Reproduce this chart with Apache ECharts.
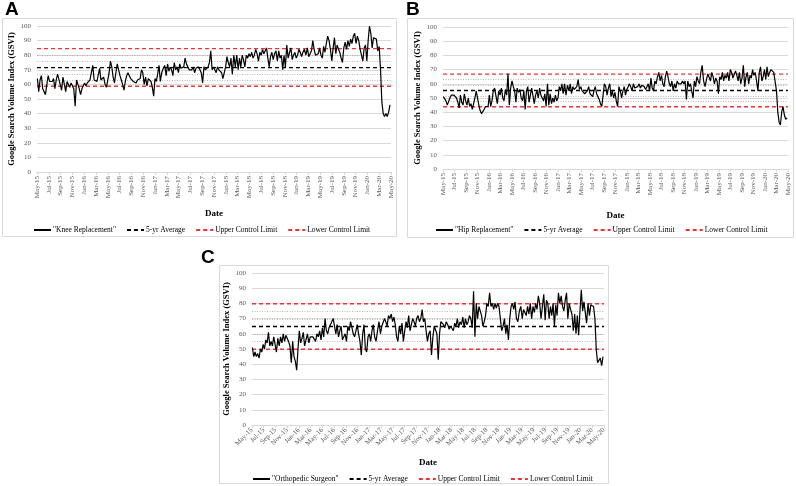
<!DOCTYPE html>
<html><head><meta charset="utf-8">
<script src="https://cdn.jsdelivr.net/npm/echarts@6/dist/echarts.min.js"></script>
<style>html,body{margin:0;padding:0;background:#fff}#c{width:796px;height:486px}</style>
</head><body><div id="c"></div>
<script>
const tickLabels = ['May-15','Jul-15','Sep-15','Nov-15','Jan-16','Mar-16','May-16','Jul-16','Sep-16','Nov-16','Jan-17','Mar-17','May-17','Jul-17','Sep-17','Nov-17','Jan-18','Mar-18','May-18','Jul-18','Sep-18','Nov-18','Jan-19','Mar-19','May-19','Jul-19','Sep-19','Nov-19','Jan-20','Mar-20','May-20'];
const firstWeek = [2015, 5, 3];
const yTicks = [0, 100, 10];

const kneeValues = [64,55,63,66,57,58,53,60,66,62,63,62,64,
57,63,67,66,60,56,65,64,55,62,63,58,61,
60,57,45,63,60,57,53,57,58,61,59,61,62,
63,64,73,63,62,62,63,71,63,64,65,60,58,
58,68,76,72,65,61,68,74,70,66,63,60,56,
62,66,68,66,64,63,62,62,61,63,62,64,70,
68,60,65,59,64,63,62,58,52,64,62,67,73,
62,68,71,73,66,74,69,72,70,66,75,70,72,
68,74,71,70,72,78,74,72,70,71,70,72,68,
71,70,72,70,68,61,72,70,71,72,75,83,70,
72,70,68,72,70,71,68,64,68,72,79,75,72,
78,67,80,72,80,70,78,72,80,77,72,80,78,
81,79,82,78,80,84,81,76,82,80,84,81,82,
85,78,72,79,82,77,81,83,76,83,78,80,70,
80,72,87,78,82,85,77,80,82,78,80,84,82,
79,82,84,80,85,79,81,83,90,84,80,79,81,
85,80,78,86,82,88,93,90,84,76,85,92,81,
87,84,82,78,75,85,89,84,90,86,91,88,93,
95,88,93,90,84,80,76,85,87,76,90,100,95,
85,92,93,91,83,86,70,48,40,38,40,38,41,46];

const hipValues = [51,52,48,45,46,50,52,51,52,51,50,47,43,
52,47,45,53,48,45,50,44,46,42,46,50,55,
56,45,41,39,40,42,44,45,44,52,44,48,55,
57,56,46,55,52,57,50,48,56,52,67,45,57,
62,58,55,47,57,54,56,50,48,55,42,55,58,
47,52,57,56,46,52,55,50,57,52,50,48,53,
44,60,45,53,46,50,47,52,48,50,58,55,60,
53,60,52,59,55,60,53,58,56,55,58,63,56,
58,55,54,53,52,55,58,53,52,51,55,58,53,
53,49,46,44,52,60,58,52,57,60,51,55,50,
54,48,44,58,55,50,55,58,52,56,58,60,58,
55,60,57,56,58,60,57,59,60,58,56,58,60,
55,64,57,55,62,60,65,68,62,66,60,58,65,
69,65,60,58,62,55,60,57,62,60,61,60,62,
60,62,49,62,58,60,61,50,62,58,65,62,60,
68,73,62,58,63,67,66,62,68,65,60,64,62,
53,65,63,68,62,66,64,68,62,70,68,64,65,
69,66,62,68,60,64,73,58,65,68,60,66,64,
70,66,68,62,55,68,72,62,65,70,63,72,65,
68,70,69,68,67,55,40,33,31,40,44,38,35,36];

const orthoValues = [51,45,48,45,47,44,50,48,53,50,56,54,61,
52,55,52,58,53,48,57,52,58,54,60,55,59,
60,55,52,41,55,45,42,36,50,62,54,57,61,
52,56,60,54,58,59,58,57,55,60,58,62,56,
64,58,70,62,60,64,65,68,70,65,60,66,58,
62,65,56,55,60,55,65,62,68,64,60,58,62,
66,60,55,46,60,66,50,48,58,60,55,62,66,
58,55,62,68,60,65,66,70,68,65,72,70,73,
68,71,66,58,55,65,60,67,55,62,68,64,72,
62,66,70,68,65,70,72,68,70,76,68,70,62,
55,60,62,46,58,65,66,60,43,60,68,69,66,
64,68,66,63,65,66,62,67,65,70,64,68,66,
71,64,70,66,68,72,70,64,88,58,80,70,78,
75,72,65,68,72,80,78,87,78,80,76,80,77,
80,78,70,62,65,70,60,66,56,70,78,80,76,
81,70,68,75,78,70,76,74,72,78,73,80,70,
78,74,80,76,85,80,70,78,86,69,82,80,70,
78,72,80,65,79,72,87,80,85,78,75,82,87,
70,80,76,73,62,73,60,72,59,75,89,75,81,
80,67,80,72,79,80,78,70,50,41,40,44,39,45];

// [5-yr average, upper control limit, lower control limit]
const kneeControl = [71.5, 84.5, 58.7];
const hipControl = [55.3, 66.8, 43.8];
const orthoControl = [64.8, 79.8, 49.8];
// dotted sigma reference lines
const kneeSigma = [63.0, 67.2, 75.8, 80.2];
const hipSigma = [47.6, 51.5, 59.1, 63.0];
const orthoSigma = [54.8, 59.8, 69.8, 74.8];

const seriesNames = ['"Knee Replacement"', '"Hip Replacement"', '"Orthopedic Surgeon"'];
const controlNames = ['5-yr Average', 'Upper Control Limit', 'Lower Control Limit'];

function monthOffset(i) {
  const d = new Date(firstWeek[0], firstWeek[1] - 1, firstWeek[2] + 7 * i);
  const dim = new Date(d.getFullYear(), d.getMonth() + 1, 0).getDate();
  return (d.getFullYear() - 2015) * 12 + (d.getMonth() - 4) + (d.getDate() - 1) / dim;
}
const pts = vals => vals.map((v, i) => [monthOffset(i), v]);

const SERIF = 'Liberation Serif';
const grids = [
  {left: 37, top: 26, width: 354, height: 146},
  {left: 443, top: 27, width: 345, height: 142},
  {left: 252, top: 273, width: 352, height: 152}
];
const rotations = [90, 90, 45];
const dateGaps = [37, 42, 33];
const yNameGaps = [21, 19, 18];

const xAxes = grids.map((g, k) => ({
  type: 'value', gridIndex: k, min: 0, max: 60, interval: 2,
  name: 'Date', nameLocation: 'middle', nameGap: dateGaps[k],
  nameTextStyle: {fontFamily: SERIF, fontWeight: 'bold', fontSize: 9, color: '#000'},
  axisLine: {show: true, lineStyle: {color: '#d9d9d9'}},
  axisTick: {show: true, length: 3, lineStyle: {color: '#d9d9d9'}},
  splitLine: {show: false},
  axisLabel: {rotate: rotations[k], fontFamily: SERIF, fontSize: 7, color: '#595959', margin: 4,
    formatter: v => tickLabels[Math.round(v / 2)] || ''}
}));
const yAxes = grids.map((g, k) => ({
  type: 'value', gridIndex: k, min: yTicks[0], max: yTicks[1], interval: yTicks[2],
  name: 'Google Search Volume Index (GSVI)', nameLocation: 'middle', nameGap: yNameGaps[k],
  nameTextStyle: {fontFamily: SERIF, fontWeight: 'bold', fontSize: 8.5, color: '#000'},
  axisLine: {show: false}, axisTick: {show: false},
  splitLine: {lineStyle: {color: '#d9d9d9', width: 1}},
  axisLabel: {fontFamily: SERIF, fontSize: 7, color: '#595959', margin: 6}
}));

const valueSets = [kneeValues, hipValues, orthoValues];
const controls = [kneeControl, hipControl, orthoControl];
const sigmas = [kneeSigma, hipSigma, orthoSigma];
const controlColors = ['#000000', '#e8343a', '#e8343a'];

const series = [];
valueSets.forEach((vals, k) => {
  series.push({
    name: seriesNames[k], type: 'line', xAxisIndex: k, yAxisIndex: k,
    data: pts(vals), showSymbol: false, symbol: 'none', z: 5,
    lineStyle: {color: '#000', width: 1.2}, itemStyle: {color: '#000'}
  });
  controls[k].forEach((c, j) => {
    const s = {
      name: controlNames[j], type: 'line', xAxisIndex: k, yAxisIndex: k,
      data: [[0, c], [60, c]], showSymbol: false, symbol: 'none', z: 4,
      lineStyle: {color: controlColors[j], width: 1.4, type: [4, 3]},
      itemStyle: {color: controlColors[j]}
    };
    if (j === 0) {
      s.markLine = {silent: true, symbol: 'none', label: {show: false},
        lineStyle: {color: '#a6a6a6', type: [1, 1.5], width: 0.8},
        data: sigmas[k].map(v => ({yAxis: v}))};
    }
    series.push(s);
  });
});

const legendPos = [{left: 28, top: 221}, {left: 430, top: 221}, {left: 247, top: 470}];
const legends = legendPos.map((p, k) => ({
  type: 'plain', orient: 'horizontal',
  left: p.left, top: p.top, itemWidth: 17, itemHeight: 8, itemGap: 10,
  itemStyle: {opacity: 0},
  data: [seriesNames[k]].concat(controlNames),
  textStyle: {fontFamily: SERIF, fontSize: 7.5, color: '#000', padding: [0, 0, 0, -3]}
}));

const graphics = [
  {type: 'rect', shape: {x: 2.5, y: 18.5, width: 394, height: 218}, style: {fill: 'none', stroke: '#d9d9d9', lineWidth: 1}},
  {type: 'rect', shape: {x: 407.5, y: 18.5, width: 386, height: 219}, style: {fill: 'none', stroke: '#d9d9d9', lineWidth: 1}},
  {type: 'rect', shape: {x: 219.5, y: 265.5, width: 389, height: 218}, style: {fill: 'none', stroke: '#d9d9d9', lineWidth: 1}},
  {type: 'text', left: 5, top: 0, style: {text: 'A', font: 'bold 19px Liberation Sans', fill: '#000'}},
  {type: 'text', left: 406, top: 0, style: {text: 'B', font: 'bold 19px Liberation Sans', fill: '#000'}},
  {type: 'text', left: 201, top: 248, style: {text: 'C', font: 'bold 19px Liberation Sans', fill: '#000'}}
];

const chart = echarts.init(document.getElementById('c'), null, {renderer: 'canvas'});
chart.setOption({
  animation: false,
  backgroundColor: '#fff',
  grid: grids,
  xAxis: xAxes,
  yAxis: yAxes,
  legend: legends,
  graphic: graphics,
  series: series
});
</script></body></html>
